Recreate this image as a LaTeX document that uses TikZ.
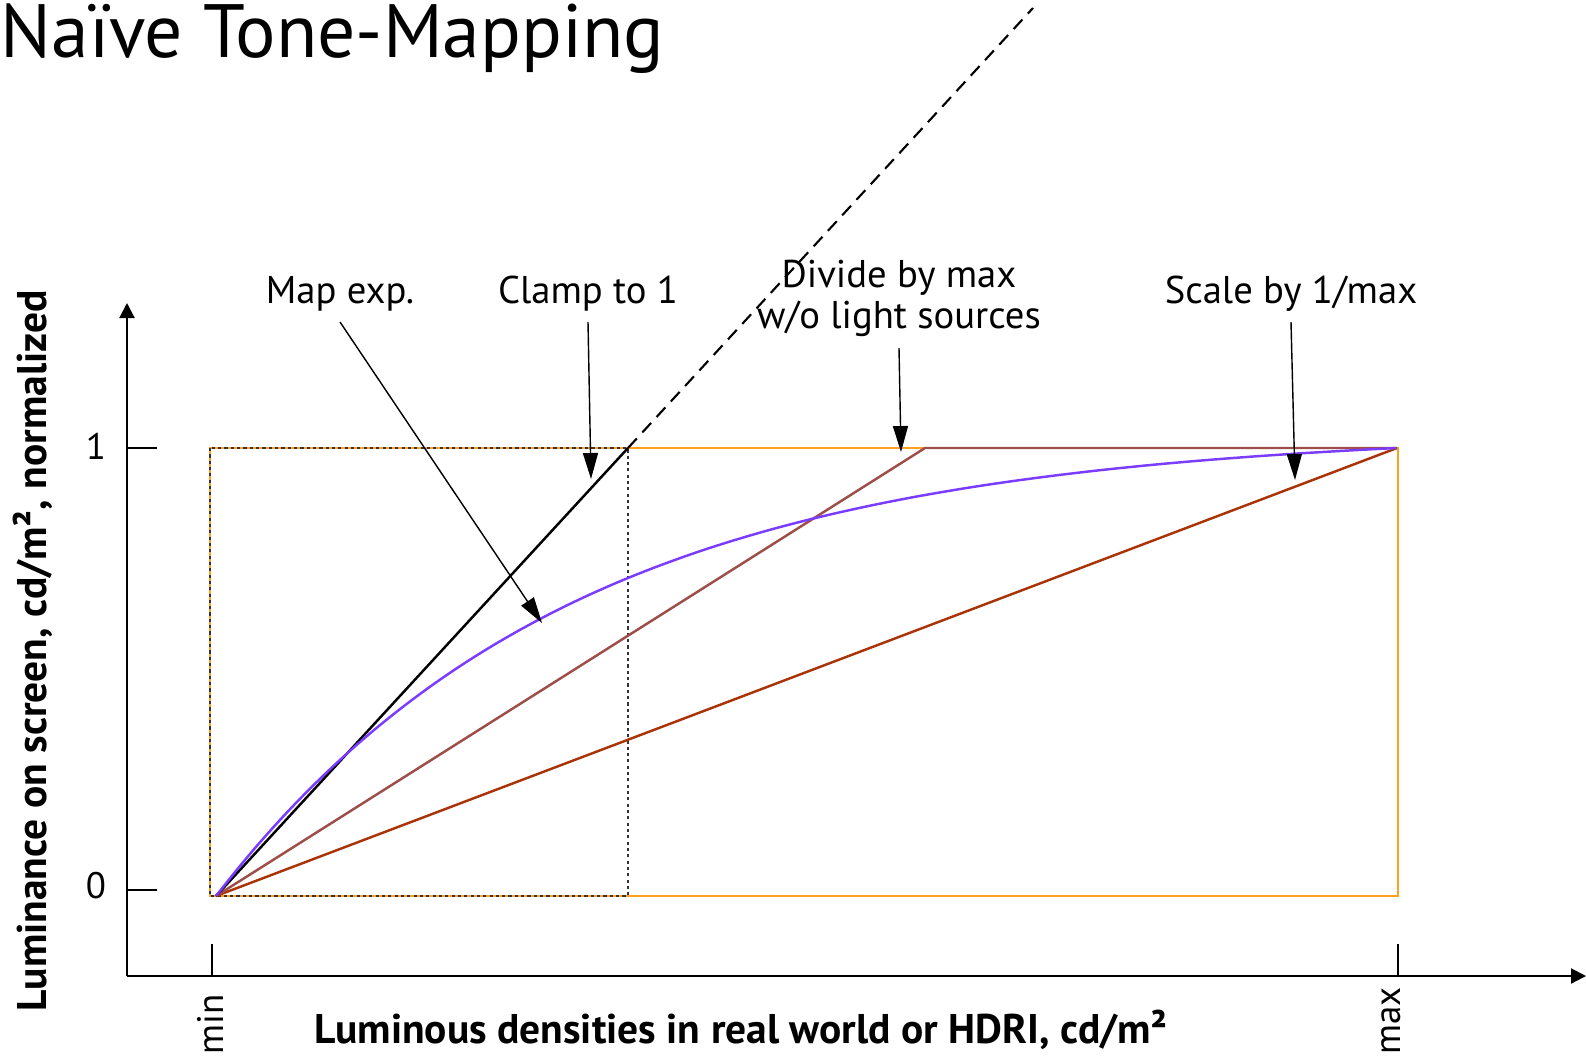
\documentclass[tikz,border=0pt]{standalone}
\usepackage{fontspec}
\setmainfont{PT Sans}
\usetikzlibrary{arrows.meta}
\definecolor{boxorange}{RGB}{255,160,30}
\definecolor{divbrown}{RGB}{158,78,72}
\definecolor{scalered}{RGB}{170,52,8}
\definecolor{expviolet}{RGB}{122,60,255}
\tikzset{
  axisarrow/.style={-{Triangle[length=1.5mm, width=1.5mm]}, line width=0.6pt},
  tickmark/.style={line width=0.6pt},
  notearrow/.style={-{Triangle[length=2.6mm, width=1.5mm]}, line width=0.4pt},
  notelabel/.style={font=\fontsize{11}{11.6}\selectfont, align=center, inner sep=3pt},
  ticklabel/.style={font=\fontsize{10.5}{12}\selectfont, inner sep=0pt},
  axislabel/.style={font=\fontsize{11.8}{13}\selectfont\bfseries, inner sep=0pt},
  rangebox/.style={draw=boxorange, line width=0.35pt},
  clampbox/.style={draw=black!80, line width=0.3pt, dash pattern=on 0.9pt off 0.9pt},
  mapcurve/.style={line width=0.7pt}
}

\begin{document}
\begin{tikzpicture}[x=0.1mm, y=-0.1mm]
  \useasboundingbox (0,0) rectangle (1586,1055);
  \node[anchor=base west, inner sep=0pt, font=\fontsize{21.5}{25}\selectfont] (title) at (0,57) {Naïve Tone-Mapping};

  % axes and ticks
  \coordinate (corner) at (127,976);
  \coordinate (ytop) at (127,303);
  \coordinate (xend) at (1586,976);
  \draw[axisarrow] (corner) -- (ytop);
  \draw[axisarrow] (corner) -- (xend);
  \draw[tickmark] (127,448) -- (157,448);
  \draw[tickmark] (127,890) -- (157,890);
  \draw[tickmark] (212,944) -- (212,976);
  \draw[tickmark] (1398,944) -- (1398,976);
  \node[ticklabel] (one) at (96,446) {1};
  \node[ticklabel] (zero) at (96,886) {0};
  \node[ticklabel, rotate=90, anchor=mid] (minlabel) at (215,1024) {min};
  \node[ticklabel, rotate=90, anchor=mid] (maxlabel) at (1392,1021) {max};
  \node[axislabel, anchor=base] (xlabel) at (741,1043) {Luminous densities in real world or HDRI, cd/m²};
  \node[axislabel, rotate=90, anchor=base] (ylabel) at (46,651) {Luminance on screen, cd/m², normalized};

  % display range
  \draw[rangebox] (210,448) rectangle (1398,896);
  \draw[clampbox] (210,448) rectangle (628,896);

  % mapping curves
  \coordinate (o) at (216,896);
  \coordinate (clamptop) at (628,448);
  \coordinate (clampend) at (1033,8);
  \coordinate (knee) at (925,448);
  \coordinate (onemax) at (1397,448);
  \draw[scalered, mapcurve] (o) -- (onemax);
  \draw[divbrown, mapcurve] (o) -- (knee) -- (onemax);
  \draw[mapcurve] (o) -- (clamptop);
  \draw[line width=0.6pt, dash pattern=on 3.7pt off 2.3pt] (clamptop) -- (clampend);
  \draw[expviolet, mapcurve] plot[domain=0:1, samples=60, smooth] ({216+1181*\x}, {896-448*(1-exp(-3.3*\x))/(1-exp(-3.3))});

  % labels with arrows
  \node[notelabel, anchor=base] (maplabel) at (340,303) {Map exp.};
  \node[notelabel, anchor=base] (clamplabel) at (588,303) {Clamp to 1};
  \node[notelabel, anchor=south] (divlabel) at (899,348) {Divide by max\\w/o light sources};
  \node[notelabel, anchor=base] (scalelabel) at (1291,303) {Scale by 1/max};
  \coordinate (maptip) at (542,623);
  \coordinate (clamptip) at (591,479);
  \coordinate (divtip) at (901,452);
  \coordinate (scaletip) at (1295,480);
  \draw[notearrow] (maplabel.south) -- (maptip);
  \draw[notearrow] (clamplabel.south) -- (clamptip);
  \draw[notearrow] (divlabel.south) -- (divtip);
  \draw[notearrow] (scalelabel.south) -- (scaletip);
\end{tikzpicture}
\end{document}
